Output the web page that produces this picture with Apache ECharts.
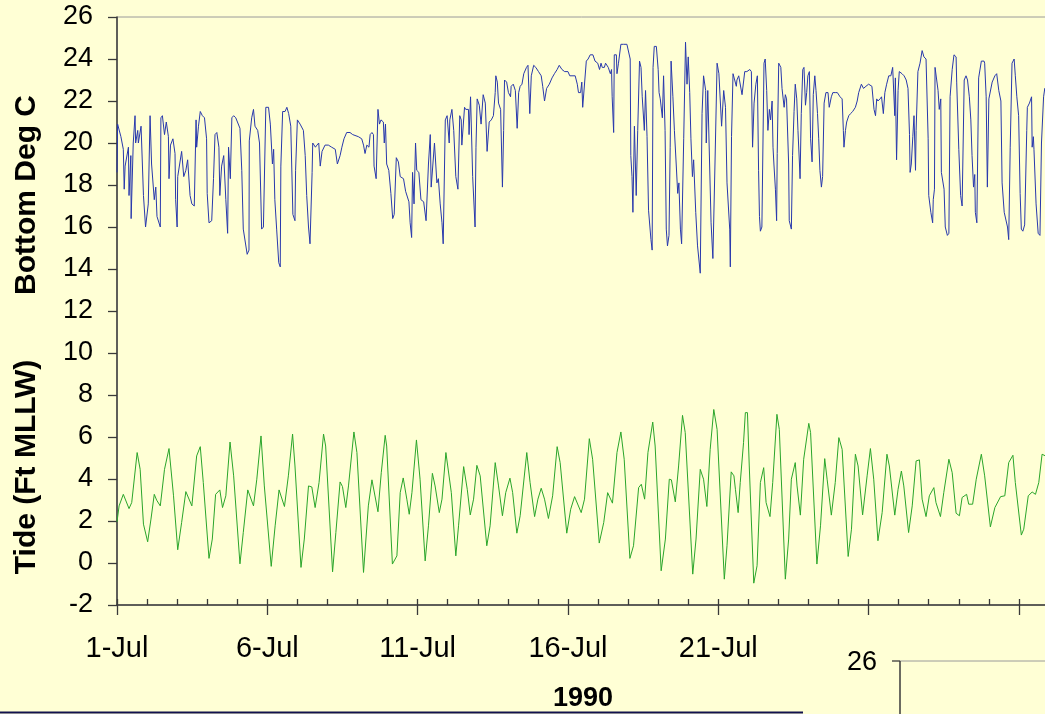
<!DOCTYPE html>
<html>
<head>
<meta charset="utf-8">
<script src="https://cdn.jsdelivr.net/npm/echarts@6/dist/echarts.min.js"></script>
<style>
html,body{margin:0;padding:0;background:#ffffd5;}
#chart{width:1045px;height:714px;}
</style>
</head>
<body>
<div id="chart"></div>
<script>
// x = day of July (1.0 = 1-Jul 00:00), y = value
const bottomTemp = [
[1.00,18.6],[1.02,20.9],[1.13,20.3],[1.21,19.7],[1.24,17.8],[1.27,18.9],[1.38,19.8],[1.40,17.5],[1.46,19.4],[1.47,16.4],
[1.54,20.0],[1.60,21.3],[1.62,20.0],[1.69,20.6],[1.71,20.0],[1.80,20.8],[1.82,20.0],[1.88,17.5],[1.95,16.0],[2.04,17.1],
[2.10,21.3],[2.15,19.0],[2.24,17.3],[2.29,17.9],[2.33,16.5],[2.38,16.5],[2.44,16.0],[2.46,21.2],[2.51,21.3],[2.58,20.4],
[2.64,21.0],[2.71,20.3],[2.73,18.3],[2.78,19.9],[2.86,20.2],[2.93,19.5],[2.95,17.3],[3.00,16.0],[3.02,18.4],[3.15,19.6],
[3.22,18.4],[3.29,18.7],[3.35,19.2],[3.43,17.5],[3.49,17.1],[3.57,17.0],[3.63,21.1],[3.65,19.8],[3.71,20.8],[3.77,21.5],
[3.84,21.3],[3.91,21.2],[3.98,20.2],[4.00,17.6],[4.06,16.2],[4.15,16.3],[4.21,18.3],[4.26,20.4],[4.32,20.5],[4.39,19.8],
[4.42,17.5],[4.48,18.9],[4.55,19.4],[4.62,17.3],[4.68,15.7],[4.71,19.8],[4.77,18.3],[4.82,21.2],[4.88,21.3],[4.95,21.2],
[5.09,20.7],[5.15,18.7],[5.20,15.9],[5.33,14.7],[5.39,14.9],[5.40,20.1],[5.48,21.2],[5.54,21.6],[5.59,20.8],[5.68,20.6],
[5.74,20.0],[5.81,15.9],[5.87,16.0],[5.95,21.7],[6.04,21.7],[6.10,20.9],[6.17,19.0],[6.21,19.7],[6.25,17.3],[6.31,15.9],
[6.38,14.3],[6.43,14.1],[6.45,18.9],[6.51,21.5],[6.59,21.5],[6.65,21.7],[6.71,21.4],[6.78,20.8],[6.85,16.6],[6.92,16.3],
[6.94,18.7],[7.00,21.1],[7.09,20.9],[7.20,20.6],[7.26,19.4],[7.31,17.5],[7.37,16.0],[7.42,15.2],[7.49,18.6],[7.51,20.0],
[7.57,20.0],[7.60,19.8],[7.65,19.9],[7.71,20.0],[7.76,18.9],[7.82,19.6],[7.92,19.9],[8.03,19.9],[8.14,19.8],[8.26,19.7],
[8.33,19.0],[8.42,19.4],[8.48,19.8],[8.55,20.2],[8.64,20.5],[8.75,20.5],[8.84,20.4],[9.03,20.3],[9.14,20.2],[9.20,19.9],
[9.25,19.5],[9.31,19.9],[9.38,19.8],[9.42,20.4],[9.48,20.5],[9.53,20.4],[9.55,18.9],[9.62,18.3],[9.68,21.6],[9.73,20.9],
[9.78,21.1],[9.86,21.0],[9.89,20.0],[9.93,20.9],[9.97,19.0],[10.04,18.7],[10.11,17.6],[10.17,16.4],[10.22,16.6],[10.29,19.3],
[10.36,19.1],[10.42,18.4],[10.53,18.3],[10.60,17.7],[10.71,17.2],[10.75,16.2],[10.80,15.5],[10.83,18.6],[10.88,17.1],[10.93,20.0],
[10.97,18.7],[11.04,18.6],[11.11,17.3],[11.20,17.2],[11.28,16.3],[11.36,19.0],[11.42,20.4],[11.45,17.9],[11.49,17.9],[11.56,20.0],
[11.64,18.1],[11.69,18.3],[11.75,17.1],[11.81,16.2],[11.85,15.2],[11.92,21.1],[11.98,21.3],[12.05,20.0],[12.07,21.1],[12.14,21.6],
[12.20,20.6],[12.27,18.4],[12.34,17.8],[12.40,21.3],[12.45,21.1],[12.47,19.9],[12.56,21.7],[12.60,21.6],[12.69,21.6],[12.71,20.4],
[12.76,22.2],[12.83,18.4],[12.91,16.0],[12.94,19.8],[12.98,22.1],[13.05,21.8],[13.11,20.9],[13.18,22.3],[13.25,21.9],[13.31,19.6],
[13.38,21.0],[13.45,21.1],[13.52,21.3],[13.58,22.4],[13.60,23.2],[13.65,22.9],[13.69,21.9],[13.76,21.6],[13.82,17.9],[13.86,20.6],
[13.89,23.0],[13.96,22.9],[14.02,22.4],[14.09,22.2],[14.11,22.7],[14.18,22.8],[14.25,22.5],[14.31,20.7],[14.36,22.4],[14.41,22.7],
[14.47,22.8],[14.53,23.3],[14.62,23.6],[14.67,23.7],[14.73,21.4],[14.78,23.2],[14.86,23.7],[14.93,23.6],[15.02,23.4],[15.11,23.2],
[15.16,22.7],[15.22,22.0],[15.29,22.6],[15.38,22.8],[15.47,23.1],[15.55,23.3],[15.64,23.5],[15.71,23.7],[15.80,23.5],[15.89,23.4],
[16.00,23.4],[16.06,23.2],[16.24,23.2],[16.31,22.8],[16.35,22.4],[16.42,22.4],[16.46,22.9],[16.49,21.7],[16.55,21.7],[16.61,23.9],
[16.67,24.0],[16.74,24.2],[16.83,24.2],[16.90,23.9],[16.99,23.8],[17.05,23.5],[17.10,23.8],[17.14,23.6],[17.21,23.6],[17.25,23.8],
[17.30,23.8],[17.34,23.6],[17.41,23.3],[17.45,23.5],[17.47,22.2],[17.52,20.5],[17.54,24.2],[17.61,24.2],[17.63,23.3],[17.68,23.8],
[17.76,24.7],[17.85,24.7],[17.96,24.7],[18.02,24.7],[18.07,24.0],[18.09,19.4],[18.13,18.4],[18.16,16.7],[18.21,20.8],[18.27,17.5],
[18.32,20.6],[18.38,23.9],[18.43,23.6],[18.47,22.2],[18.54,20.6],[18.58,22.5],[18.63,20.3],[18.68,16.8],[18.76,15.4],[18.80,14.9],
[18.83,23.6],[18.87,24.6],[18.94,24.6],[19.00,23.5],[19.03,22.4],[19.07,22.1],[19.14,21.2],[19.18,23.2],[19.23,20.6],[19.27,15.9],
[19.31,15.1],[19.36,15.6],[19.40,19.8],[19.43,23.9],[19.49,22.2],[19.54,20.6],[19.60,19.0],[19.65,17.6],[19.69,18.1],[19.74,15.9],
[19.78,15.2],[19.85,20.2],[19.91,24.8],[19.96,22.8],[20.00,24.1],[20.05,22.4],[20.09,20.2],[20.14,18.4],[20.18,19.2],[20.25,16.7],
[20.31,15.1],[20.40,13.8],[20.46,21.4],[20.51,23.2],[20.58,22.5],[20.60,20.0],[20.65,22.5],[20.69,22.5],[20.76,16.2],[20.82,14.5],
[20.89,19.0],[20.96,23.8],[21.02,23.3],[21.11,20.8],[21.18,22.5],[21.24,21.7],[21.29,18.1],[21.38,15.9],[21.40,14.1],[21.44,20.3],
[21.49,23.3],[21.60,22.7],[21.62,23.0],[21.68,23.2],[21.72,23.2],[21.79,22.3],[21.88,23.4],[21.95,23.4],[22.05,23.5],[22.10,23.4],
[22.14,19.8],[22.19,21.9],[22.25,22.8],[22.30,23.2],[22.34,18.7],[22.37,16.5],[22.40,15.8],[22.45,16.0],[22.52,23.8],[22.56,24.0],
[22.61,22.5],[22.65,20.6],[22.70,21.6],[22.74,21.1],[22.79,22.0],[22.82,19.8],[22.85,19.0],[22.90,17.8],[22.94,16.3],[22.96,19.5],
[23.01,23.8],[23.08,23.6],[23.12,22.6],[23.19,21.7],[23.23,22.3],[23.27,22.1],[23.34,19.0],[23.36,16.3],[23.43,15.9],[23.47,19.4],
[23.52,21.5],[23.56,22.8],[23.61,22.1],[23.65,20.6],[23.70,19.0],[23.72,18.3],[23.76,21.4],[23.81,23.5],[23.85,23.6],[23.90,21.8],
[23.94,22.4],[23.98,23.2],[24.03,23.4],[24.07,20.2],[24.12,19.1],[24.16,22.3],[24.21,23.2],[24.25,22.5],[24.30,21.4],[24.34,20.2],
[24.38,18.7],[24.43,17.9],[24.47,18.4],[24.52,21.9],[24.58,22.4],[24.65,22.4],[24.69,21.7],[24.76,22.2],[24.81,22.4],[24.89,22.4],
[24.96,22.4],[25.05,22.2],[25.12,22.1],[25.16,20.6],[25.18,19.8],[25.23,20.6],[25.27,21.0],[25.34,21.3],[25.40,21.4],[25.47,21.5],
[25.56,21.7],[25.62,22.0],[25.67,22.4],[25.76,22.8],[25.83,22.6],[25.91,22.7],[26.00,22.8],[26.11,22.7],[26.18,21.6],[26.23,21.3],
[26.27,22.1],[26.31,22.0],[26.38,22.1],[26.43,22.2],[26.49,21.4],[26.54,22.4],[26.60,22.8],[26.67,23.2],[26.74,23.2],[26.80,23.6],
[26.87,21.3],[26.89,23.1],[26.93,19.2],[26.98,22.5],[27.02,23.4],[27.11,23.3],[27.18,23.2],[27.25,23.0],[27.31,22.6],[27.36,20.4],
[27.38,18.6],[27.42,19.0],[27.47,20.3],[27.51,21.3],[27.56,18.7],[27.58,20.6],[27.64,23.4],[27.71,23.8],[27.78,24.4],[27.84,24.1],
[27.91,24.0],[27.98,20.2],[28.00,17.5],[28.07,16.7],[28.13,16.2],[28.15,17.3],[28.19,17.8],[28.21,23.6],[28.27,23.6],[28.31,22.5],
[28.35,21.6],[28.40,22.1],[28.42,18.6],[28.51,17.8],[28.55,16.0],[28.62,15.6],[28.67,15.7],[28.71,22.2],[28.78,23.5],[28.84,24.2],
[28.91,24.1],[28.93,22.9],[29.00,19.7],[29.06,17.5],[29.11,17.0],[29.18,23.0],[29.24,23.2],[29.29,23.0],[29.35,22.2],[29.40,21.1],
[29.44,19.4],[29.49,17.9],[29.53,18.5],[29.55,16.7],[29.60,16.2],[29.66,23.1],[29.75,23.9],[29.84,23.9],[29.86,23.8],[29.91,22.2],
[29.95,17.9],[30.00,22.1],[30.06,22.1],[30.11,22.9],[30.20,23.2],[30.26,23.3],[30.33,22.5],[30.40,22.0],[30.44,18.1],[30.51,16.7],
[30.57,16.7],[30.62,16.0],[30.66,15.4],[30.71,19.8],[30.77,23.8],[30.84,24.0],[30.88,23.2],[30.93,22.2],[30.99,21.3],[31.04,17.6],
[31.08,15.9],[31.13,15.8],[31.19,16.1],[31.26,20.6],[31.28,21.7],[31.35,21.9],[31.42,22.2],[31.44,19.8],[31.48,20.3],[31.50,19.7],
[31.57,17.1],[31.64,15.7],[31.70,15.6],[31.75,20.0],[31.82,22.2],[31.86,22.6],[31.88,22.5]
];
const tideFt = [
[1.00,1.96],[1.07,2.72],[1.21,3.27],[1.40,2.59],[1.49,2.88],[1.67,5.26],[1.77,4.46],[1.88,1.85],[2.02,1.01],[2.13,2.09],
[2.24,3.27],[2.32,2.99],[2.44,2.72],[2.58,4.46],[2.73,5.45],[2.88,3.20],[3.02,0.63],[3.15,1.93],[3.29,3.40],[3.49,2.72],
[3.65,5.10],[3.77,5.54],[3.87,3.83],[4.06,0.22],[4.17,1.14],[4.28,3.27],[4.42,3.48],[4.51,2.64],[4.62,3.20],[4.76,5.76],
[4.88,4.15],[5.09,-0.04],[5.20,1.45],[5.35,3.48],[5.54,2.72],[5.65,3.99],[5.79,6.05],[5.90,3.67],[6.13,-0.16],[6.26,1.77],
[6.39,3.48],[6.57,2.69],[6.70,4.15],[6.84,6.14],[6.92,4.62],[7.12,-0.21],[7.23,1.14],[7.37,3.67],[7.48,3.62],[7.59,2.64],
[7.72,3.83],[7.87,6.14],[7.94,5.57],[8.17,-0.42],[8.28,1.45],[8.42,3.86],[8.50,3.64],[8.61,2.64],[8.70,3.67],[8.88,6.24],
[8.98,5.26],[9.20,-0.45],[9.36,2.72],[9.48,3.96],[9.68,2.44],[9.79,4.30],[9.92,6.08],[9.97,5.57],[10.16,-0.05],[10.31,0.34],
[10.42,3.35],[10.52,4.05],[10.64,3.04],[10.72,2.32],[10.81,3.35],[10.96,5.86],[11.08,3.99],[11.25,0.10],[11.36,1.77],[11.49,4.27],
[11.58,3.67],[11.72,2.40],[11.81,3.04],[11.94,5.26],[12.00,5.18],[12.12,3.35],[12.27,0.34],[12.36,1.77],[12.53,4.59],[12.65,3.51],
[12.75,2.29],[12.86,3.04],[12.97,4.65],[13.08,4.15],[13.30,0.82],[13.41,1.77],[13.58,4.78],[13.69,3.67],[13.82,2.25],[13.93,3.35],
[14.07,4.04],[14.16,3.35],[14.30,1.42],[14.41,2.25],[14.63,5.26],[14.74,3.83],[14.89,2.21],[15.00,3.04],[15.11,3.56],[15.22,3.04],
[15.35,2.12],[15.49,3.20],[15.64,5.54],[15.74,4.78],[15.96,1.42],[16.09,2.56],[16.22,3.16],[16.44,2.40],[16.55,3.04],[16.71,5.92],
[16.82,4.94],[17.04,0.95],[17.19,1.93],[17.32,3.35],[17.48,2.85],[17.63,5.26],[17.76,6.24],[17.87,4.94],[18.06,0.22],[18.18,0.82],
[18.35,3.59],[18.44,3.75],[18.55,3.04],[18.66,5.26],[18.82,6.71],[18.90,5.57],[19.10,-0.37],[19.24,1.14],[19.37,3.99],[19.44,3.96],
[19.57,2.91],[19.68,4.62],[19.81,7.03],[19.90,6.21],[20.15,-0.53],[20.26,1.14],[20.40,4.46],[20.51,3.99],[20.62,2.69],[20.73,5.41],
[20.85,7.31],[20.96,6.36],[21.20,-0.77],[21.29,0.82],[21.43,4.34],[21.52,4.15],[21.57,3.51],[21.66,2.40],[21.73,3.83],[21.84,5.73],
[21.90,7.16],[21.97,7.16],[22.03,4.62],[22.18,-0.96],[22.29,-0.13],[22.40,3.83],[22.51,4.54],[22.59,2.88],[22.72,2.21],[22.81,3.83],
[22.95,7.08],[23.03,6.36],[23.23,-0.77],[23.34,1.14],[23.43,3.99],[23.56,4.78],[23.62,3.67],[23.73,2.28],[23.84,4.94],[24.01,6.65],
[24.07,6.21],[24.28,-0.05],[24.40,1.77],[24.54,4.97],[24.62,3.99],[24.76,2.28],[24.89,3.83],[25.01,5.97],[25.12,5.41],[25.32,0.31],
[25.43,1.61],[25.56,5.18],[25.65,4.62],[25.80,2.29],[25.95,4.15],[26.06,5.45],[26.17,3.99],[26.31,1.06],[26.45,2.40],[26.61,5.18],
[26.69,4.62],[26.87,2.28],[26.98,3.51],[27.09,4.38],[27.17,3.67],[27.33,1.45],[27.45,2.72],[27.58,4.86],[27.69,4.91],[27.78,3.04],
[27.91,2.21],[28.02,3.20],[28.17,3.59],[28.24,2.88],[28.39,2.21],[28.50,3.35],[28.67,4.94],[28.78,4.30],[28.91,2.37],[29.02,2.25],
[29.11,3.12],[29.26,3.27],[29.33,2.80],[29.46,2.80],[29.58,3.99],[29.75,5.18],[29.86,4.15],[30.05,1.72],[30.20,2.64],[30.39,3.16],
[30.53,3.20],[30.66,4.78],[30.80,5.13],[30.88,3.83],[31.08,1.33],[31.16,1.61],[31.31,3.20],[31.44,3.38],[31.55,3.27],[31.66,3.83],
[31.77,5.18],[31.88,5.10]
];
const yTicks = {min: -2, max: 26, step: 2};
const monthLabel = 'Jul';
const dayLabels = [1, 6, 11, 16, 21];
const xTitle = '1990';
const yTitleTop = 'Bottom Deg C';
const yTitleBottom = 'Tide (Ft MLLW)';

const toX = arr => arr.map(p => [p[0] - 1, p[1]]);
const FONT = '"Liberation Sans", Arial, sans-serif';
const AXC = '#3a3a3a';

const chart = echarts.init(document.getElementById('chart'), null, {renderer: 'canvas'});
chart.setOption({
  backgroundColor: '#ffffd5',
  animation: false,
  grid: {left: 117, right: -4, top: 17, bottom: 109, containLabel: false, outerBoundsMode: 'none',
         show: true, borderColor: '#9a9a9a', borderWidth: 1, backgroundColor: 'transparent'},
  xAxis: [
    {type: 'value', min: 0, max: 31, interval: 1, position: 'bottom',
     axisLine: {show: true, onZero: false, lineStyle: {color: AXC, width: 1.5}},
     axisTick: {show: true, inside: true, length: 6, lineStyle: {color: AXC, width: 1.3}},
     axisLabel: {show: false}, splitLine: {show: false}},
    {type: 'value', min: 0, max: 31, interval: 5, position: 'bottom',
     name: xTitle, nameLocation: 'middle', nameGap: 80,
     nameTextStyle: {fontFamily: FONT, fontSize: 27, fontWeight: 'bold', color: '#000'},
     axisLine: {show: false, onZero: false},
     axisTick: {show: true, inside: false, length: 10, lineStyle: {color: AXC, width: 1.3}},
     axisLabel: {show: true, margin: 29, fontFamily: FONT, fontSize: 29, color: '#000', showMaxLabel: false,
       formatter: v => dayLabels.indexOf(v + 1) >= 0 ? (v + 1) + '-' + monthLabel : ''},
     splitLine: {show: false}}
  ],
  yAxis: {type: 'value', min: yTicks.min, max: yTicks.max, interval: yTicks.step,
    axisLine: {show: true, onZero: false, lineStyle: {color: AXC, width: 1.5}},
    axisTick: {show: true, length: 9, lineStyle: {color: AXC, width: 1.3}},
    axisLabel: {margin: 24, fontFamily: FONT, fontSize: 27, color: '#000'},
    splitLine: {show: false}},
  series: [
    {type: 'line', name: yTitleTop, xAxisIndex: 0, data: toX(bottomTemp), showSymbol: false, symbol: 'none',
     lineStyle: {color: '#2838ac', width: 1}, clip: true},
    {type: 'line', name: yTitleBottom, xAxisIndex: 0, data: toX(tideFt), showSymbol: false, symbol: 'none',
     lineStyle: {color: '#2aa52a', width: 1}, clip: true}
  ],
  graphic: [
    {type: 'text', x: 27, y: 195, rotation: Math.PI / 2,
     style: {text: yTitleTop, font: 'bold 30px ' + FONT, fill: '#000', align: 'center', verticalAlign: 'middle'}},
    {type: 'text', x: 27, y: 467, rotation: Math.PI / 2,
     style: {text: yTitleBottom, font: 'bold 30px ' + FONT, fill: '#000', align: 'center', verticalAlign: 'middle'}},
    {type: 'text', x: 862, y: 663,
     style: {text: '26', font: '27px ' + FONT, fill: '#000', align: 'center', verticalAlign: 'middle'}},
    {type: 'line', shape: {x1: 900, y1: 661, x2: 1045, y2: 661}, style: {stroke: '#9a9a9a', lineWidth: 1}},
    {type: 'line', shape: {x1: 892, y1: 661, x2: 900, y2: 661}, style: {stroke: AXC, lineWidth: 1.3}},
    {type: 'line', shape: {x1: 900, y1: 661, x2: 900, y2: 714}, style: {stroke: AXC, lineWidth: 1.5}},
    {type: 'line', z: 100, shape: {x1: 0, y1: 712.5, x2: 803, y2: 712.5}, style: {stroke: '#12124e', lineWidth: 2}}
  ]
});
</script>
</body>
</html>
